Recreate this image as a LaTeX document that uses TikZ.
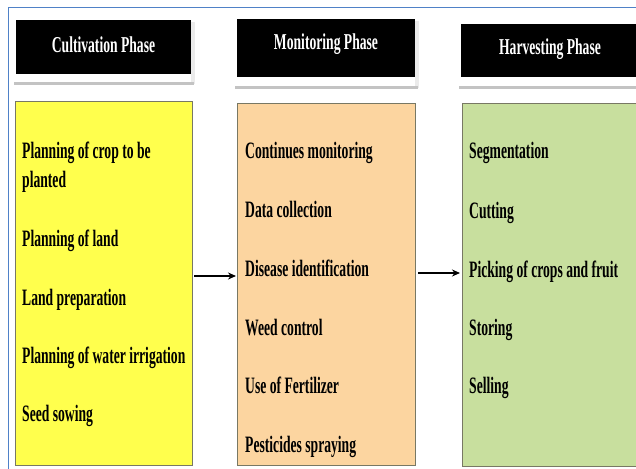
\documentclass[tikz,border=0pt]{standalone}
\usepackage{fontspec}
\setmainfont{Liberation Serif}
\newfontfamily\itemfont{Liberation Serif}[FakeStretch=0.58]
\newfontfamily\headfont{Liberation Serif}[FakeStretch=0.6]
\usetikzlibrary{arrows.meta}
\definecolor{frameblue}{RGB}{79,129,199}
\definecolor{cyellow}{RGB}{255,255,77}
\definecolor{corange}{RGB}{252,213,160}
\definecolor{cgreen}{RGB}{200,223,158}
\definecolor{boxedge}{RGB}{120,120,100}
\definecolor{shadowgray}{RGB}{195,195,195}
\definecolor{lightshadow}{RGB}{235,235,235}
\begin{document}
\begin{tikzpicture}[x=1pt,y=-1pt,
  header/.style={fill=black,draw=none},
  headtext/.style={anchor=base,text=white,font=\headfont\bfseries\fontsize{22.7}{24}\selectfont,inner sep=0pt},
  content/.style={draw=boxedge,line width=0.8pt,anchor=north west,inner sep=0pt},
  itemtext/.style={anchor=base west,inner sep=0pt,font=\itemfont\bfseries\fontsize{23.5}{26}\selectfont},
  flow/.style={-{Stealth[length=8pt,width=7pt]},line width=1.4pt}]
\useasboundingbox (0,0) rectangle (636,468);
\fill[white] (0,0) rectangle (636,468);
% outer frame
\draw[frameblue,line width=1pt] (8,470) -- (8,8) -- (640,8);
% header shadows
\fill[lightshadow] (191,22) rectangle (195,84);
\fill[lightshadow] (415,21) rectangle (419,88);
\fill[shadowgray] (14,82) rectangle (194,85);
\fill[shadowgray] (235,86) rectangle (418,89);
\fill[shadowgray] (459,86) rectangle (640,89);
% headers
\fill[header] (16,20) rectangle (191,74);
\fill[header] (237,19) rectangle (415,77);
\fill[header] (461,24) rectangle (640,77);
\node[headtext] (h1) at (103.5,53) {Cultivation Phase};
\node[headtext] (h2) at (326,50) {Monitoring Phase};
\node[headtext] (h3) at (550,55) {Harvesting Phase};
% content boxes
\node[content,fill=cyellow,minimum width=177pt,minimum height=364pt] (c1) at (15,101) {};
\node[content,fill=corange,minimum width=178pt,minimum height=362pt] (c2) at (237,103) {};
\node[content,fill=cgreen,minimum width=180pt,minimum height=363pt] (c3) at (462,103) {};
% arrows
\coordinate (a1s) at (194,276);
\coordinate (a1e) at (236,276);
\coordinate (a2s) at (418,273);
\coordinate (a2e) at (460,273);
\draw[flow] (a1s) -- (a1e);
\draw[flow] (a2s) -- (a2e);
% yellow items
\node[itemtext] (y1) at (22,158) {Planning of crop to be};
\node[itemtext] (y1b) at (22,187) {planted};
\node[itemtext] (y2) at (22,246) {Planning of land};
\node[itemtext] (y3) at (22,305) {Land preparation};
\node[itemtext] (y4) at (22,363) {Planning of water irrigation};
\node[itemtext] (y5) at (22,421) {Seed sowing};
% orange items
\node[itemtext] (o1) at (245,158) {Continues monitoring};
\node[itemtext] (o2) at (245,217) {Data collection};
\node[itemtext] (o3) at (245,276) {Disease identification};
\node[itemtext] (o4) at (245,335) {Weed control};
\node[itemtext] (o5) at (245,393) {Use of Fertilizer};
\node[itemtext] (o6) at (245,452) {Pesticides spraying};
% green items
\node[itemtext] (g1) at (469,158) {Segmentation};
\node[itemtext] (g2) at (469,218) {Cutting};
\node[itemtext] (g3) at (469,277) {Picking of crops and fruit};
\node[itemtext] (g4) at (469,335) {Storing};
\node[itemtext] (g5) at (469,393) {Selling};
\end{tikzpicture}
\end{document}
